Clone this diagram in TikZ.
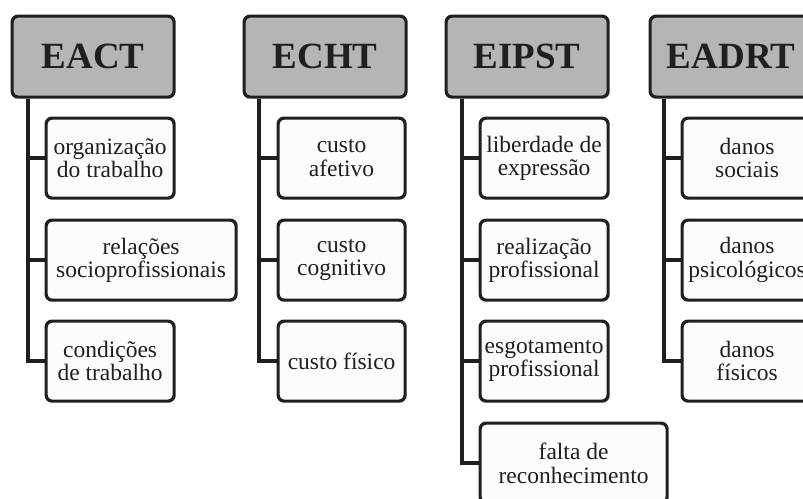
\documentclass[tikz,border=0pt]{standalone}
\usepackage{fontspec}
\setmainfont{Liberation Serif}
\usepackage{tikz}
\definecolor{headgray}{rgb}{0.71, 0.71, 0.72}
\definecolor{boxwhite}{rgb}{0.99, 0.99, 0.99}
\definecolor{inkblack}{rgb}{0.12, 0.12, 0.12}
\tikzset{
    head/.style={draw=inkblack, line width=3.2pt, rounded corners=6pt, fill=headgray,
        minimum width=162pt, minimum height=81pt, anchor=north west, text=inkblack,
        font=\fontsize{37}{40}\selectfont\bfseries},
    item/.style={draw=inkblack, line width=3.2pt, rounded corners=6pt, fill=boxwhite,
        minimum height=80pt, anchor=north west, align=center, inner sep=1pt, text=inkblack,
        font=\fontsize{23.5}{23.5}\selectfont},
    trunk/.style={draw=inkblack, line width=3.4pt}
}

\begin{document}
\begin{tikzpicture}[x=1pt, y=-1pt]
    \useasboundingbox (0,0) rectangle (803,498);
    \clip (0,0) rectangle (803,498);

    % column headers
    \node[head] (eact)  at (10.5,14.5)  {EACT};
    \node[head] (echt)  at (242.5,14.5) {ECHT};
    \node[head] (eipst) at (444.5,14.5) {EIPST};
    \node[head] (eadrt) at (648.5,14.5) {EADRT};

    % EACT
    \node[item, minimum width=128pt] (eact1) at (44.5,116.5) {organização\\do trabalho};
    \node[item, minimum width=190pt] (eact2) at (44.5,218.5) {relações\\socioprofissionais};
    \node[item, minimum width=128pt] (eact3) at (44.5,319.5) {condições\\de trabalho};

    % ECHT
    \node[item, minimum width=127pt] (echt1) at (276.5,116.5) {custo\\afetivo};
    \node[item, minimum width=127pt] (echt2) at (276.5,218.5) {custo\\cognitivo};
    \node[item, minimum width=127pt] (echt3) at (276.5,319.5) {custo físico};

    % EIPST
    \node[item, minimum width=128pt] (eipst1) at (478.5,116.5) {liberdade de\\expressão};
    \node[item, minimum width=128pt] (eipst2) at (478.5,218.5) {realização\\profissional};
    \node[item, minimum width=128pt] (eipst3) at (478.5,319.5) {esgotamento\\profissional};
    \node[item, minimum width=187pt] (eipst4) at (478.5,421.5) {falta de\\reconhecimento};

    % EADRT
    \node[item, minimum width=130pt] (eadrt1) at (680.5,116.5) {danos\\sociais};
    \node[item, minimum width=130pt] (eadrt2) at (680.5,218.5) {danos\\psicológicos};
    \node[item, minimum width=130pt] (eadrt3) at (680.5,319.5) {danos\\físicos};

    % trunks
    \foreach \i in {1,2,3}
        \draw[trunk] ([xshift=17.5pt]eact.south west) |- (eact\i.west);
    \foreach \i in {1,2,3}
        \draw[trunk] ([xshift=16.5pt]echt.south west) |- (echt\i.west);
    \foreach \i in {1,2,3,4}
        \draw[trunk] ([xshift=17.5pt]eipst.south west) |- (eipst\i.west);
    \foreach \i in {1,2,3}
        \draw[trunk] ([xshift=15.5pt]eadrt.south west) |- (eadrt\i.west);
\end{tikzpicture}
\end{document}
